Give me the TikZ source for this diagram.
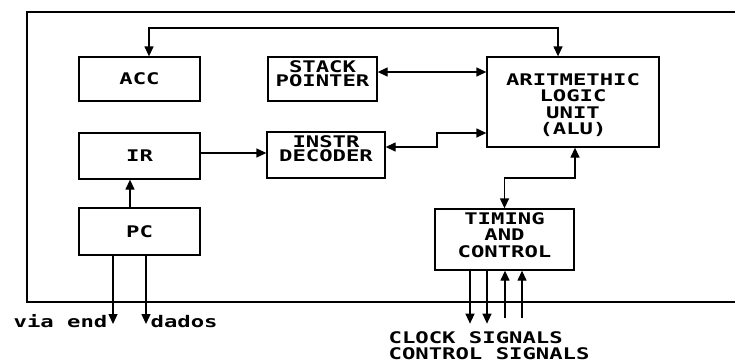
\documentclass[tikz,border=0pt]{standalone}
\usepackage{fontspec}
\newfontfamily\plotfont[FakeStretch=1.39]{DejaVu Sans Mono}
\usetikzlibrary{arrows.meta}
\newcommand\liftlines[2]{\raisebox{#1}[\height][\depth]{\begin{tabular}{@{}c@{}}#2\end{tabular}}}

\begin{document}
\begin{tikzpicture}[
  x=1pt, y=-1pt,
  line width=1.3pt,
  >={Triangle[length=10pt,width=9pt]},
  every node/.style={font=\plotfont\bfseries\fontsize{16}{15.5}\selectfont, inner sep=0pt},
  unit/.style 2 args={draw, minimum width=#1, minimum height=#2}
]
\useasboundingbox (0,0) rectangle (735,362);
\draw[line width=1.5pt] (735,12) -- (27,12) -- (27,302) -- (735,302);

\node[unit={121}{44}] (acc) at (139.5,79) {ACC};
\node[unit={109}{44}] (sp) at (322.5,79) {\liftlines{3pt}{STACK\\[-2pt]POINTER}};
\node[unit={121}{46}] (ir) at (139.5,156) {IR};
\node[unit={118}{46}] (dec) at (326,155) {\liftlines{4pt}{INSTR\\[-2pt]DECODER}};
\node[unit={172}{90}] (alu) at (573,102) {\liftlines{-4.5pt}{ARITMETHIC\\LOGIC\\UNIT\\(ALU)}};
\node[unit={121}{47}] (pc) at (139.5,231.5) {PC};
\node[unit={139}{61}] (tc) at (504.5,239.5) {\liftlines{2.5pt}{TIMING\\AND\\CONTROL}};

\coordinate (bus-acc) at (149,28);
\coordinate (bus-alu) at (558,28);
\draw[<->] (acc.north -| bus-acc) -- (bus-acc) -- (bus-alu) -- (alu.north -| bus-alu);
\draw[<->] ([yshift=7pt]sp.east) -- ([yshift=7pt]sp.east -| alu.west);
\draw[->] ([yshift=3pt]ir.east) -- ([yshift=3pt]ir.east -| dec.west);
\coordinate (dec-bend) at (437,133);
\draw[<->] ([yshift=8pt]dec.east) -| (dec-bend) -- (dec-bend -| alu.west);
\coordinate (alu-bend) at (575,178);
\draw[<->] (tc.north) |- (alu-bend) -- (alu-bend |- alu.south);
\draw[->] ([xshift=-9.5pt]pc.north) -- ([xshift=-9.5pt]ir.south);

\coordinate (addr) at (113,324);
\coordinate (data) at (146,324);
\draw[->] (pc.south -| addr) -- (addr);
\draw[->] (pc.south -| data) -- (data);
\node[anchor=base east] (addr-lbl) at (108,327) {via end};
\node[anchor=base west] (data-lbl) at (150,327) {dados};

\foreach \dx/\len/\tip in {-34.5/53/->, -17.5/53/->, 0.5/47/<-, 17.5/47/<-}
  \draw[\tip] ([xshift=\dx pt]tc.south) -- ++(0,\len);
\node[anchor=base west] (clk-lbl) at (388,343) {CLOCK SIGNALS};
\node[anchor=base west] (ctl-lbl) at (388,359) {CONTROL SIGNALS};
\end{tikzpicture}
\end{document}
